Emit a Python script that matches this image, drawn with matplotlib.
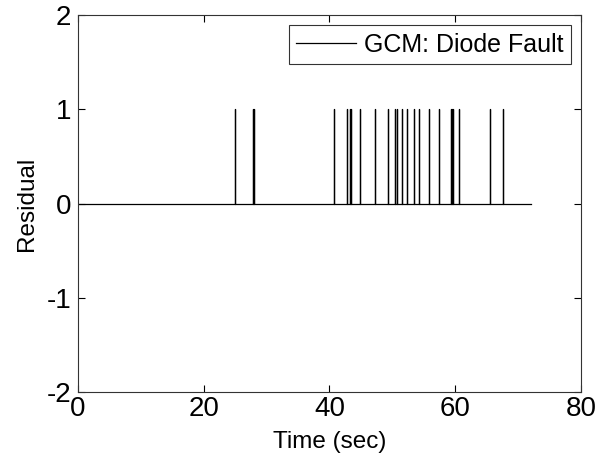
import numpy as np
import matplotlib.pyplot as plt

plt.rcParams['font.family'] = ['Liberation Sans', 'DejaVu Sans']
plt.rcParams['axes.unicode_minus'] = False

# residual spike times (sec), value 1 at each, 0 elsewhere
spike_times = [25.0, 27.8, 28.0, 40.7, 42.8, 43.3, 43.5, 44.8, 47.2, 49.3,
               50.5, 50.7, 51.6, 52.4, 53.5, 54.2, 55.9, 57.5, 59.3, 59.5,
               59.7, 60.7, 65.6, 67.6]
spike_value = 1
t_start, t_end = 0.0, 72.0

x_ticks = [0, 20, 40, 60, 80]
y_ticks = [-2, -1, 0, 1, 2]

# build step-like residual trace
t = [t_start]
r = [0]
for s in spike_times:
    t += [s, s, s]
    r += [0, spike_value, 0]
t.append(t_end)
r.append(0)

fig = plt.figure(figsize=(6.12, 4.69), dpi=100)
ax = fig.add_axes([0.1275, 0.164, 0.8215, 0.804])
ax.plot(t, r, color='black', linewidth=0.9, label='GCM: Diode Fault')

ax.set_xlim(0, 80)
ax.set_ylim(-2, 2)
ax.set_xticks(x_ticks)
ax.set_yticks(y_ticks)
ax.tick_params(direction='in', top=True, right=True, length=5, width=0.8,
               labelsize=20)
ax.tick_params(axis='x', pad=3)
ax.tick_params(axis='y', pad=5)
for sp in ax.spines.values():
    sp.set_linewidth(0.8)
    sp.set_color('#333333')
ax.set_xlabel('Time (sec)', fontsize=17.5, labelpad=6)
ax.set_ylabel('Residual', fontsize=17.5, labelpad=6)

leg = ax.legend(loc='upper right', fontsize=18, frameon=True, fancybox=False,
                edgecolor='black', handlelength=2.4, handletextpad=0.3,
                borderpad=0.3, borderaxespad=0.4)
leg.get_frame().set_linewidth(0.8)

fig.savefig('out.png', dpi=100)
